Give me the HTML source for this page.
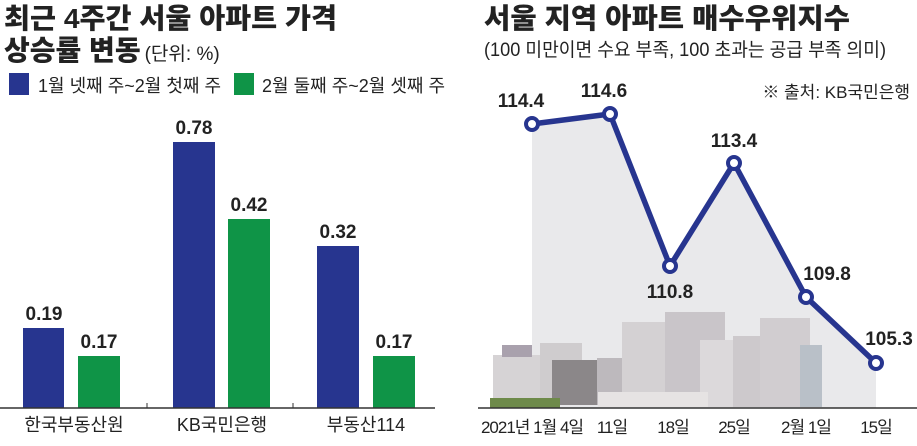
<!DOCTYPE html>
<html><head><meta charset="utf-8"><style>
body{margin:0;width:917px;height:441px;background:#fff;overflow:hidden;font-family:"Liberation Sans","Noto Sans CJK KR",sans-serif;}
</style></head><body>
<svg width="917" height="441" xmlns="http://www.w3.org/2000/svg" style="font-family:'Liberation Sans','Noto Sans CJK KR',sans-serif">
<text x="4" y="28" font-size="28" font-weight="900" fill="#222" textLength="333" lengthAdjust="spacingAndGlyphs">최근 4주간 서울 아파트 가격</text>
<text x="4" y="60" font-size="28" font-weight="900" fill="#222">상승률 변동<tspan font-size="19" font-weight="normal" dx="4">(단위: %)</tspan></text>
<rect x="9" y="73" width="20" height="22" fill="#27358f"/>
<text x="38" y="92" font-size="18" fill="#222">1월 넷째 주~2월 첫째 주</text>
<rect x="234" y="73" width="20" height="22" fill="#0f9447"/>
<text x="262" y="92" font-size="18" fill="#222">2월 둘째 주~2월 셋째 주</text>
<g>
<rect x="23" y="328" width="41" height="80" fill="#27358f"/>
<rect x="78" y="356" width="42" height="52" fill="#0f9447"/>
<rect x="173" y="142" width="42" height="266" fill="#27358f"/>
<rect x="228" y="219" width="42" height="189" fill="#0f9447"/>
<rect x="317" y="246" width="42" height="162" fill="#27358f"/>
<rect x="373" y="356" width="42" height="52" fill="#0f9447"/>
</g>
<g font-size="19" font-weight="bold" fill="#222" text-anchor="middle">
<text x="44" y="320">0.19</text><text x="99" y="348">0.17</text>
<text x="194" y="134">0.78</text><text x="249" y="211">0.42</text>
<text x="338" y="238">0.32</text><text x="394" y="348">0.17</text>
</g>
<line x1="0" y1="408" x2="435" y2="408" stroke="#333" stroke-width="1.5"/>
<line x1="147" y1="403" x2="147" y2="408" stroke="#333"/>
<line x1="293" y1="403" x2="293" y2="408" stroke="#333"/>
<g font-size="18" fill="#222" text-anchor="middle">
<text x="74" y="431">한국부동산원</text><text x="222" y="431">KB국민은행</text><text x="366" y="431">부동산114</text>
</g>
<text x="484" y="28" font-size="28" font-weight="900" fill="#222" textLength="366" lengthAdjust="spacingAndGlyphs">서울 지역 아파트 매수우위지수</text>
<text x="484" y="56" font-size="19" fill="#222" textLength="402" lengthAdjust="spacingAndGlyphs">(100 미만이면 수요 부족, 100 초과는 공급 부족 의미)</text>
<text x="910" y="98" font-size="17" fill="#222" text-anchor="end">※ 출처: KB국민은행</text>
<polygon points="532,124 610,114 670,266 734,163 806,297 876,363 876,408 532,408" fill="#e9e9eb"/>
<g>
<rect x="493" y="355" width="55" height="50" fill="#d6d3d5"/>
<rect x="502" y="345" width="30" height="12" fill="#a9a1ad"/>
<rect x="540" y="343" width="42" height="62" fill="#cfccce"/>
<rect x="552" y="360" width="55" height="45" fill="#8b8789"/>
<rect x="597" y="358" width="40" height="47" fill="#bdb9bd"/>
<rect x="622" y="322" width="62" height="85" fill="#d4d1d3"/>
<rect x="665" y="312" width="60" height="95" fill="#c9c5c9"/>
<rect x="700" y="340" width="40" height="67" fill="#dcd9db"/>
<rect x="733" y="336" width="40" height="71" fill="#cdc9cc"/>
<rect x="760" y="318" width="50" height="89" fill="#d1cdd0"/>
<rect x="800" y="345" width="22" height="62" fill="#b9c0c8"/>
<rect x="598" y="392" width="110" height="15" fill="#e6e3e3"/>
<rect x="490" y="398" width="70" height="10" fill="#6e8a4a"/>
</g>
<polyline points="532,124 610,114 670,266 734,163 806,297 876,363" fill="none" stroke="#27358f" stroke-width="5.5" stroke-linejoin="round"/>
<g fill="#fff" stroke="#27358f" stroke-width="4">
<circle cx="532" cy="124" r="6"/><circle cx="610" cy="114" r="6"/><circle cx="670" cy="266" r="6"/>
<circle cx="734" cy="163" r="6"/><circle cx="806" cy="297" r="6"/><circle cx="876" cy="363" r="6"/>
</g>
<g font-size="19" font-weight="bold" fill="#222" text-anchor="middle">
<text x="521" y="107">114.4</text><text x="604" y="97">114.6</text>
<text x="670" y="298">110.8</text><text x="734" y="147">113.4</text>
<text x="827" y="280">109.8</text><text x="889" y="345">105.3</text>
</g>
<line x1="478" y1="408" x2="917" y2="408" stroke="#333" stroke-width="1.5"/>
<g font-size="17" fill="#222" text-anchor="middle" letter-spacing="-1">
<text x="532" y="433">2021년 1월 4일</text><text x="612" y="433">11일</text>
<text x="673" y="433">18일</text><text x="734" y="433">25일</text>
<text x="806" y="433">2월 1일</text><text x="876" y="433">15일</text>
</g>
</svg>
</body></html>
